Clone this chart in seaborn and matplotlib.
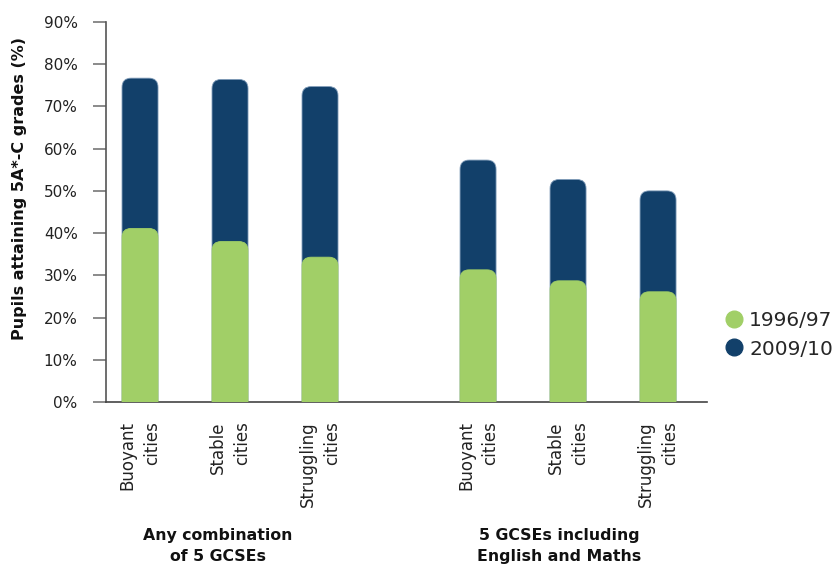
import numpy as np
import pandas as pd
import seaborn as sns
import matplotlib
matplotlib.use("Agg")
import matplotlib.pyplot as plt
from matplotlib.patches import FancyBboxPatch
from matplotlib.lines import Line2D

# ---- data ----
cities = ["Buoyant\ncities", "Stable\ncities", "Struggling\ncities"]
groups = ["Any combination\nof 5 GCSEs", "5 GCSEs including\nEnglish and Maths"]
y1996 = [41.1, 38.0, 34.3, 31.3, 28.7, 26.1]
y2009 = [76.7, 76.4, 74.7, 57.3, 52.7, 50.0]
series = ["1996/97", "2009/10"]
yticks = [0, 10, 20, 30, 40, 50, 60, 70, 80, 90]

GREEN = "#A1CF67"
NAVY = "#12406A"

sns.set_theme(style="white")
plt.rcParams["font.family"] = ["DejaVu Sans"]

fig = plt.figure(figsize=(8.38, 5.67), dpi=100)
ax = fig.add_axes([106 / 838, 1 - 402 / 567, (707 - 106) / 838, (402 - 22) / 567])

# positions: two groups of three, with a wider gap between groups
gap = 1.756
pos = [0, 1, 2, 2 + gap, 3 + gap, 4 + gap]
labels = cities + cities
df = pd.DataFrame({"pos": pos, "y1996": y1996, "y2009": y2009})

sns.barplot(data=df, x="pos", y="y2009", native_scale=True, width=0.4,
            color=NAVY, saturation=1, ax=ax)
n_navy = len(ax.patches)
sns.barplot(data=df, x="pos", y="y1996", native_scale=True, width=0.4,
            color=GREEN, saturation=1, ax=ax)

ax.set_xlim(-0.378, 6.3)
ax.set_ylim(0, 90)

# replace bars with rounded-top versions derived from the library's bars
asp = 21.3
r = 0.1
for i, p in enumerate(list(ax.patches)):
    x, y, w, h = p.get_x(), p.get_y(), p.get_width(), p.get_height()
    fc = p.get_facecolor()
    p.remove()
    top = y + h
    fb = FancyBboxPatch((x + r, 0), w - 2 * r, top - r * asp,
                        boxstyle=f"round,pad={r},rounding_size={r}",
                        mutation_aspect=asp, facecolor=fc,
                        edgecolor="#7f9bb8" if i < n_navy else GREEN,
                        linewidth=0.6, zorder=2 if i < n_navy else 3)
    ax.add_patch(fb)

# axes styling
for s in ["top", "right"]:
    ax.spines[s].set_visible(False)
ax.spines["left"].set_color("#555555")
ax.spines["left"].set_linewidth(1.2)
ax.spines["bottom"].set_color("#444444")
ax.spines["bottom"].set_linewidth(1.2)

ax.set_yticks(yticks)
ax.set_yticklabels([f"{v}%" for v in yticks], fontsize=11, color="#222222")
ax.tick_params(axis="y", length=9.4, width=1.2, color="#777777", pad=11, left=True)

ax.set_xticks(pos)
ax.set_xticklabels(labels, rotation=90, fontsize=12, color="#222222",
                   multialignment="right", va="top", ha="center",
                   linespacing=1.45)
ax.tick_params(axis="x", length=0, pad=14)
ax.set_xlabel("")
ax.set_ylabel("")

# group labels
trans = ax.get_xaxis_transform()
yg = (1 - 546 / 567 - (1 - 402 / 567)) / ((402 - 22) / 567)
ax.text(0.867, yg, groups[0], transform=trans, ha="center", va="center",
        fontsize=11.3, fontweight="bold", linespacing=1.45, color="#111111")
ax.text(4.656, yg, groups[1], transform=trans, ha="center", va="center",
        fontsize=11.3, fontweight="bold", linespacing=1.45, color="#111111")

# y label
fig.text(20 / 838, 1 - 188 / 567, "Pupils attaining 5A*-C grades (%)",
         rotation=90, ha="center", va="center", fontsize=11.5,
         fontweight="bold", color="#111111")

# legend
handles = [Line2D([], [], marker="o", linestyle="", markersize=12,
                  markerfacecolor=c, markeredgecolor=c) for c in (GREEN, NAVY)]
fig.legend(handles, series, loc="center left",
           bbox_to_anchor=(716 / 838, 1 - 335 / 567), frameon=False,
           fontsize=14.5, handletextpad=0.25, labelspacing=0.45,
           handlelength=1.0, borderaxespad=0)

fig.savefig("out.png", dpi=100)
